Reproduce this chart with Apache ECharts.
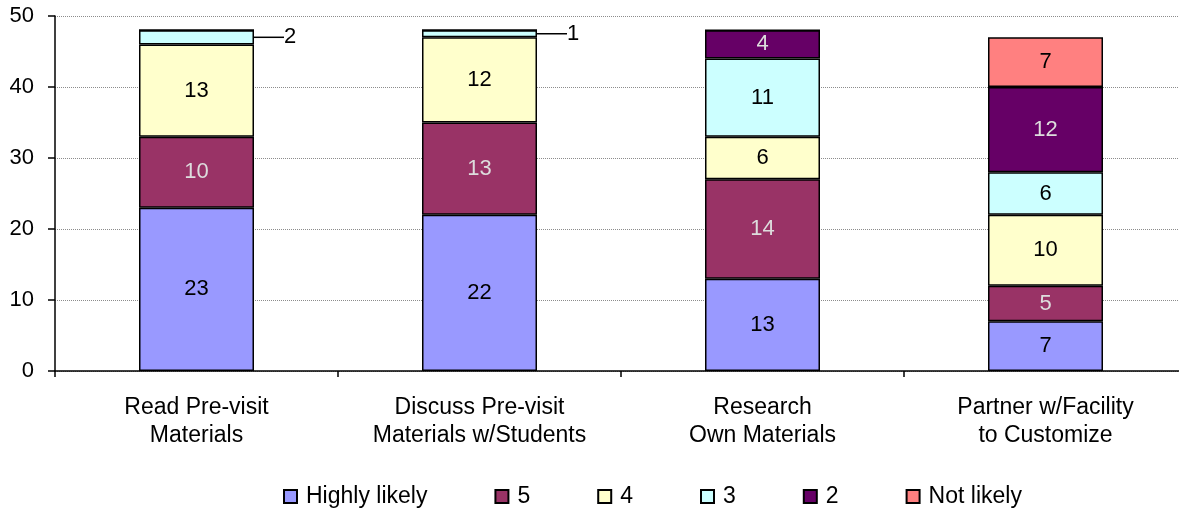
<!DOCTYPE html>
<html>
<head>
<meta charset="utf-8">
<script src="https://cdn.jsdelivr.net/npm/echarts@6/dist/echarts.min.js"></script>
<style>
  html, body { margin: 0; padding: 0; background: #fff; overflow: hidden; }
  #chart { width: 1187px; height: 508px; }
</style>
</head>
<body>
<div id="chart"></div>
<script>
// Survey responses per activity, stacked by likelihood rating
const categories = [
  'Read Pre-visit\nMaterials',
  'Discuss Pre-visit\nMaterials w/Students',
  'Research\nOwn Materials',
  'Partner w/Facility\nto Customize'
];
const seriesNames = ['Highly likely', '5', '4', '3', '2', 'Not likely'];
const highlyLikely = [23, 22, 13, 7];
const rating5 = [10, 13, 14, 5];
const rating4 = [13, 12, 6, 10];
const rating3 = [2, 1, 11, 6];
const rating2 = [0, 0, 4, 12];
const notLikely = [0, 0, 0, 7];
const yTicks = [0, 10, 20, 30, 40, 50];

const seriesValues = [highlyLikely, rating5, rating4, rating3, rating2, notLikely];
const fills = ['#9999FF', '#993366', '#FFFFCC', '#CCFFFF', '#660066', '#FF8080'];
const labelColors = ['#000', '#dddddd', '#000', '#000', '#dddddd', '#000'];
const FONT = '"Liberation Sans", Arial, sans-serif';
const FS = 22;

// thin segments get their value outside the bar, joined by a leader line
const THIN = 2;

const series = seriesValues.map((vals, s) => ({
  name: seriesNames[s],
  type: 'bar',
  stack: 'total',
  barWidth: 115,
  itemStyle: { color: fills[s], borderColor: '#000', borderWidth: 1.5 },
  label: {
    show: true,
    position: 'inside',
    color: labelColors[s],
    fontFamily: FONT,
    fontSize: FS,
    formatter: p => (p.value ? String(p.value) : '')
  },
  labelLine: { show: true, lineStyle: { color: '#000', width: 1.5 } },
  labelLayout: p => {
    const v = vals[p.dataIndex];
    return (v > 0 && v <= THIN) ? { dx: 26 } : {};
  },
  data: vals.map(v => (v > 0 && v <= THIN)
    ? { value: v, label: { position: 'right', distance: 4, color: '#000' } }
    : v)
}));

const chart = echarts.init(document.getElementById('chart'), null, { renderer: 'canvas' });
chart.setOption({
  animation: false,
  backgroundColor: '#fff',
  textStyle: { fontFamily: FONT },
  grid: { left: 55, right: 0, top: 16, bottom: 137, containLabel: false },
  legend: {
    data: seriesNames,
    top: 480,
    left: 278,
    icon: 'rect',
    itemWidth: 13,
    itemHeight: 13,
    itemGap: 67,
    textStyle: { fontFamily: FONT, fontSize: 23, color: '#000', padding: [0, 0, 0, 4] }
  },
  xAxis: {
    type: 'category',
    data: categories,
    axisLine: { lineStyle: { color: '#000', width: 1.5 } },
    axisTick: { show: true, length: 6, lineStyle: { color: '#000', width: 1.5 } },
    axisLabel: { color: '#000', fontFamily: FONT, fontSize: 23, lineHeight: 28, margin: 23 }
  },
  yAxis: {
    type: 'value',
    min: yTicks[0],
    max: yTicks[yTicks.length - 1],
    interval: yTicks[1] - yTicks[0],
    axisLine: { show: true, lineStyle: { color: '#000', width: 1.5 } },
    axisTick: { show: true, length: 7, lineStyle: { color: '#000', width: 1.5 } },
    axisLabel: { color: '#000', fontFamily: FONT, fontSize: FS, margin: 21 },
    splitLine: { show: true, lineStyle: { color: '#8c8c8c', width: 1, type: 'dotted' } }
  },
  series: series
});
</script>
</body>
</html>
